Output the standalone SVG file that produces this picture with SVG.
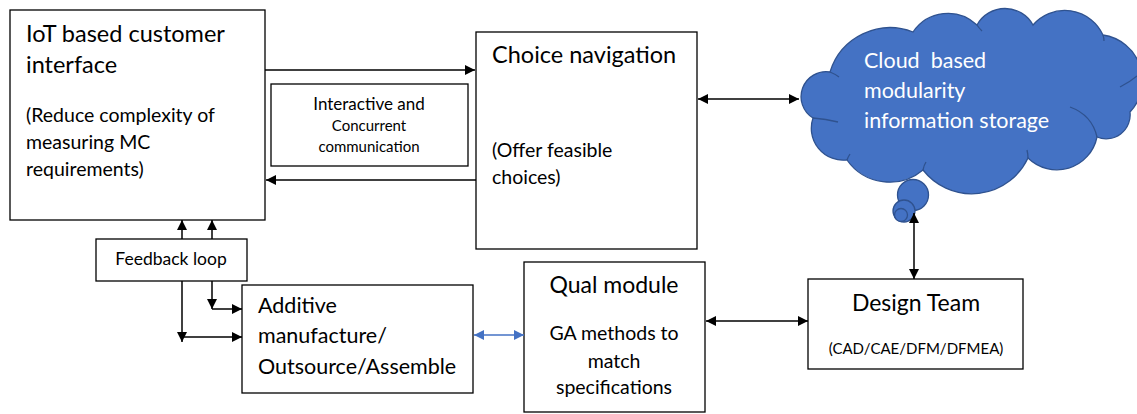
<svg xmlns="http://www.w3.org/2000/svg" width="1137" height="414" viewBox="0 0 1137 414">
<defs>
<marker id="ah" viewBox="0 0 10 10" refX="10" refY="5" markerWidth="11" markerHeight="10" markerUnits="userSpaceOnUse" orient="auto-start-reverse"><path d="M0,0 L10,5 L0,10 Z" fill="#000"/></marker>
<marker id="ahb" viewBox="0 0 10 10" refX="10" refY="5" markerWidth="11" markerHeight="10" markerUnits="userSpaceOnUse" orient="auto-start-reverse"><path d="M0,0 L10,5 L0,10 Z" fill="#4472C4"/></marker>
</defs>
<style>
.box{fill:#fff;stroke:#000;stroke-width:1.3}
.t{font-family:Lato,"Liberation Sans",sans-serif;fill:#000}
.w{fill:#fff}
.c{stroke:#000;stroke-width:1.5;fill:none}
.cloud{fill:#4472C4;stroke:#2F528F;stroke-width:1.3}
.inner{fill:none;stroke:#2F528F;stroke-width:1.3}
</style>
<rect width="1137" height="414" fill="#fff"/>
<g id="iot">
<rect class="box" x="10" y="10" width="255" height="210"/>
<text class="t" x="26" y="42" font-size="23.5">IoT based customer</text>
<text class="t" x="26" y="73" font-size="23.5">interface</text>
<text class="t" x="26" y="122" font-size="19.5">(Reduce complexity of</text>
<text class="t" x="26" y="149" font-size="19.5">measuring MC</text>
<text class="t" x="26" y="176" font-size="19.5">requirements)</text>
</g>
<g id="interactive">
<rect class="box" x="271" y="84" width="197" height="82"/>
<text class="t" x="369" y="110" font-size="17" text-anchor="middle">Interactive and</text>
<text class="t" x="369" y="131" font-size="15" text-anchor="middle">Concurrent</text>
<text class="t" x="369" y="152" font-size="15" text-anchor="middle">communication</text>
</g>
<g id="choice">
<rect class="box" x="476" y="32" width="221" height="217"/>
<text class="t" x="492" y="63" font-size="23.5">Choice navigation</text>
<text class="t" x="492" y="157" font-size="19.5">(Offer feasible</text>
<text class="t" x="492" y="184" font-size="19.5">choices)</text>
</g>
<g id="cloud">
<path class="cloud" d="M813,118 A25,25 0 0 1 830,72 A63,63 0 0 1 913,32 A42,42 0 0 1 977,25 A32,32 0 0 1 1033,25 A42,42 0 0 1 1103,35 A46,46 0 0 1 1130,112 A24,24 0 0 1 1097,137 A41,41 0 0 1 1028,158 A62,62 0 0 1 923,170 A52,52 0 0 1 847,160 A32,32 0 0 1 813,118 Z"/>
<path class="inner" d="M830,72 Q835,74 839,77"/>
<path class="inner" d="M813,118 Q826,119 838,122"/>
<path class="inner" d="M847,160 Q848,157 850,154"/>
<path class="inner" d="M923,170 Q924,165 926,162"/>
<path class="inner" d="M1028,158 Q1028,154 1027,150"/>
<path class="inner" d="M1070,107 Q1092,115 1097,137"/>
<path class="inner" d="M1120,87 Q1130,82 1137,76"/>
<path class="inner" d="M1103,35 Q1104,38 1104,41"/>
<path class="inner" d="M977,25 Q979,28 982,31"/>
<circle class="cloud" cx="913" cy="195" r="15.5"/>
<circle class="cloud" cx="904" cy="211" r="11"/>
<circle class="cloud" cx="901" cy="215" r="6.5"/>
<text class="t w" x="864" y="68" font-size="21.5" xml:space="preserve">Cloud  based</text>
<text class="t w" x="864" y="98" font-size="21.5">modularity</text>
<text class="t w" x="864" y="128" font-size="21.5">information storage</text>
</g>
<g id="feedback">
<rect class="box" x="96" y="239" width="151" height="42"/>
<text class="t" x="171" y="265" font-size="17.5" text-anchor="middle">Feedback loop</text>
</g>
<g id="additive">
<rect class="box" x="242" y="285" width="231" height="108"/>
<text class="t" x="258" y="313" font-size="21.5">Additive</text>
<text class="t" x="258" y="343" font-size="21.5">manufacture/</text>
<text class="t" x="258" y="374" font-size="21.5">Outsource/Assemble</text>
</g>
<g id="qual">
<rect class="box" x="524" y="262" width="181" height="150"/>
<text class="t" x="614" y="293" font-size="23" text-anchor="middle">Qual module</text>
<text class="t" x="614" y="340" font-size="19.5" text-anchor="middle">GA methods to</text>
<text class="t" x="614" y="368" font-size="19.5" text-anchor="middle">match</text>
<text class="t" x="614" y="394" font-size="19.5" text-anchor="middle">specifications</text>
</g>
<g id="design">
<rect class="box" x="808" y="279" width="215" height="90"/>
<text class="t" x="916" y="311" font-size="23" text-anchor="middle">Design Team</text>
<text class="t" x="916" y="354" font-size="15" text-anchor="middle">(CAD/CAE/DFM/DFMEA)</text>
</g>
<g id="connectors">
<line class="c" x1="265" y1="70" x2="475" y2="70" marker-end="url(#ah)"/>
<line class="c" x1="476" y1="180" x2="266" y2="180" marker-end="url(#ah)"/>
<line class="c" x1="698" y1="99" x2="799" y2="99" marker-start="url(#ah)" marker-end="url(#ah)"/>
<line class="c" x1="914" y1="213" x2="914" y2="279" marker-start="url(#ah)" marker-end="url(#ah)"/>
<line class="c" x1="706" y1="321" x2="808" y2="321" marker-start="url(#ah)" marker-end="url(#ah)"/>
<line x1="474" y1="335" x2="524" y2="335" stroke="#4472C4" stroke-width="1.5" marker-start="url(#ahb)" marker-end="url(#ahb)"/>
<line class="c" x1="182" y1="239" x2="182" y2="220" marker-end="url(#ah)"/>
<line class="c" x1="212" y1="239" x2="212" y2="220" marker-end="url(#ah)"/>
<line class="c" x1="212" y1="281" x2="212" y2="309" marker-end="url(#ah)"/>
<line class="c" x1="212" y1="309" x2="242" y2="309" marker-end="url(#ah)"/>
<line class="c" x1="182" y1="281" x2="182" y2="342" marker-end="url(#ah)"/>
<line class="c" x1="182" y1="337" x2="242" y2="337" marker-end="url(#ah)"/>
</g>
</svg>
